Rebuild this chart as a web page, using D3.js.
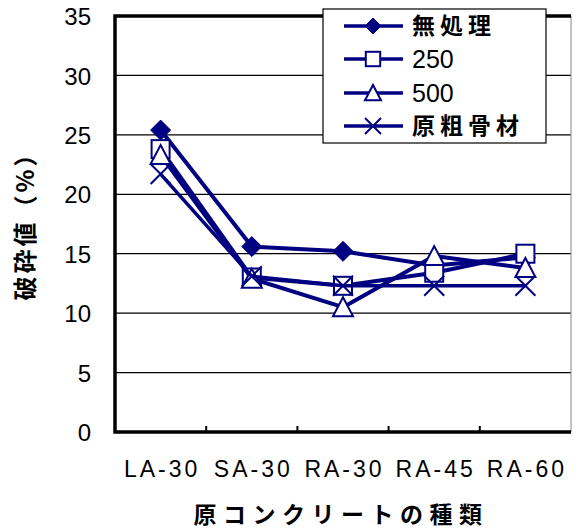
<!DOCTYPE html>
<html><head><meta charset="utf-8">
<script src="https://cdn.jsdelivr.net/npm/d3@7"></script>
<style>body{margin:0;background:#fff}svg{display:block}</style>
</head><body>
<svg id="c" width="574" height="530"></svg>
<script>
const categories = ["LA-30","SA-30","RA-30","RA-45","RA-60"];
const seriesNames = ["無処理","250","500","原粗骨材"];
const sMuShori = [25.4, 15.6, 15.2, 14.0, 14.7];
const s250 = [23.8, 13.0, 12.3, 13.4, 15.0];
const s500 = [23.3, 12.9, 10.5, 14.8, 13.8];
const sGenso = [21.7, 13.1, 12.3, 12.3, 12.3];
const yTicks = [0,5,10,15,20,25,30,35];
const yTitle = "破砕値（%）";
const xTitle = "原コンクリートの種類";

const series = [
  {name: seriesNames[0], values: sMuShori, marker: "diamond"},
  {name: seriesNames[1], values: s250, marker: "square"},
  {name: seriesNames[2], values: s500, marker: "triangle"},
  {name: seriesNames[3], values: sGenso, marker: "cross"}
];

const color = "#000080";
const L = 115, R = 571, T = 16, B = 432;
const svg = d3.select("#c");
const x = d3.scaleBand().domain(categories).range([L, R]);
const y = d3.scaleLinear().domain([0, 35]).range([B, T]);
const latin = "'Liberation Sans', Arial, sans-serif";
const cjk = "'Noto Sans CJK JP', sans-serif";

// gridlines
svg.append("g").selectAll("line").data(yTicks.filter(t => t > 0 && t < 35)).join("line")
  .attr("x1", L).attr("x2", R).attr("y1", d => y(d)).attr("y2", d => y(d))
  .attr("stroke", "#000").attr("stroke-width", 1.2);

// right border
svg.append("line").attr("x1", R).attr("x2", R).attr("y1", T).attr("y2", B)
  .attr("stroke", "#888").attr("stroke-width", 1);

// y axis
const yAxis = svg.append("g").attr("transform", `translate(${L},0)`)
  .call(d3.axisLeft(y).tickValues(yTicks).tickSize(0).tickPadding(24));
yAxis.select(".domain").remove();
yAxis.selectAll("text").attr("font-family", latin).attr("font-size", 24).attr("fill", "#000").attr("dy", "0.36em");

// x axis
const xAxis = svg.append("g").attr("transform", `translate(0,${B})`)
  .call(d3.axisBottom(x).tickSize(0).tickPadding(29));
xAxis.select(".domain").remove();
xAxis.selectAll("text").attr("font-family", latin).attr("font-size", 23).attr("fill", "#000")
  .attr("letter-spacing", "3px").attr("dx", "1.5px");

// x band boundary ticks (inside)
svg.append("g").selectAll("line").data(categories.slice(1)).join("line")
  .attr("x1", d => x(d)).attr("x2", d => x(d)).attr("y1", B).attr("y2", B - 6)
  .attr("stroke", "#000").attr("stroke-width", 2);

// frame: left, bottom, top thick
svg.append("path").attr("d", `M${R},${T}H${L}V${B}H${R}`)
  .attr("fill", "none").attr("stroke", "#000").attr("stroke-width", 3.5);

// titles
svg.append("text").attr("transform", "translate(34,220) rotate(-90)")
  .attr("text-anchor", "middle").attr("font-family", cjk).attr("font-weight", "bold")
  .attr("font-size", 24).attr("letter-spacing", "3px").text(yTitle);
svg.append("text").attr("x", 341).attr("y", 523)
  .attr("text-anchor", "middle").attr("font-family", cjk).attr("font-weight", "bold")
  .attr("font-size", 23).attr("letter-spacing", "6.5px").text(xTitle);

function drawMarker(g, type, cx, cy, s) {
  const h = s / 2;
  if (type === "diamond") {
    g.append("path").attr("d", `M${cx},${cy-h}L${cx+h},${cy}L${cx},${cy+h}L${cx-h},${cy}Z`)
      .attr("fill", color).attr("stroke", color).attr("stroke-width", 1);
  } else if (type === "square") {
    const q = h * 0.9;
    g.append("rect").attr("x", cx - q).attr("y", cy - q).attr("width", 2*q).attr("height", 2*q)
      .attr("fill", "#fff").attr("stroke", color).attr("stroke-width", 2);
  } else if (type === "triangle") {
    g.append("path").attr("d", `M${cx},${cy-h}L${cx+h},${cy+h*0.9}L${cx-h},${cy+h*0.9}Z`)
      .attr("fill", "#fff").attr("stroke", color).attr("stroke-width", 2);
  } else {
    g.append("path").attr("d", `M${cx-h},${cy-h}L${cx+h},${cy+h}M${cx+h},${cy-h}L${cx-h},${cy+h}`)
      .attr("fill", "none").attr("stroke", color).attr("stroke-width", 2);
  }
}

const line = d3.line().x((d, i) => x(categories[i]) + x.bandwidth()/2).y(d => y(d));
series.forEach(s => {
  const g = svg.append("g");
  g.append("path").attr("d", line(s.values)).attr("fill", "none")
    .attr("stroke", color).attr("stroke-width", s.marker === "cross" ? 3.5 : 4).attr("stroke-linejoin", "round");
  s.values.forEach((v, i) => drawMarker(g, s.marker, x(categories[i]) + x.bandwidth()/2, y(v), 20));
});

// legend
const lg = svg.append("g");
lg.append("rect").attr("x", 323).attr("y", 9).attr("width", 223).attr("height", 134)
  .attr("fill", "#fff").attr("stroke", "#000").attr("stroke-width", 1.2);
const rowY = [26, 59, 93, 126];
series.forEach((s, i) => {
  lg.append("line").attr("x1", 344).attr("x2", 403).attr("y1", rowY[i]).attr("y2", rowY[i])
    .attr("stroke", color).attr("stroke-width", 3.5);
  drawMarker(lg, s.marker, 373, rowY[i], 16);
  const isLatin = /^[0-9]+$/.test(s.name);
  lg.append("text").attr("x", 412).attr("y", rowY[i]).attr("dy", "0.36em")
    .attr("font-family", isLatin ? latin : cjk).attr("font-weight", isLatin ? "normal" : "bold")
    .attr("font-size", isLatin ? 25 : 23).attr("letter-spacing", isLatin ? "0px" : "5px").text(s.name);
});
</script>
</body></html>
